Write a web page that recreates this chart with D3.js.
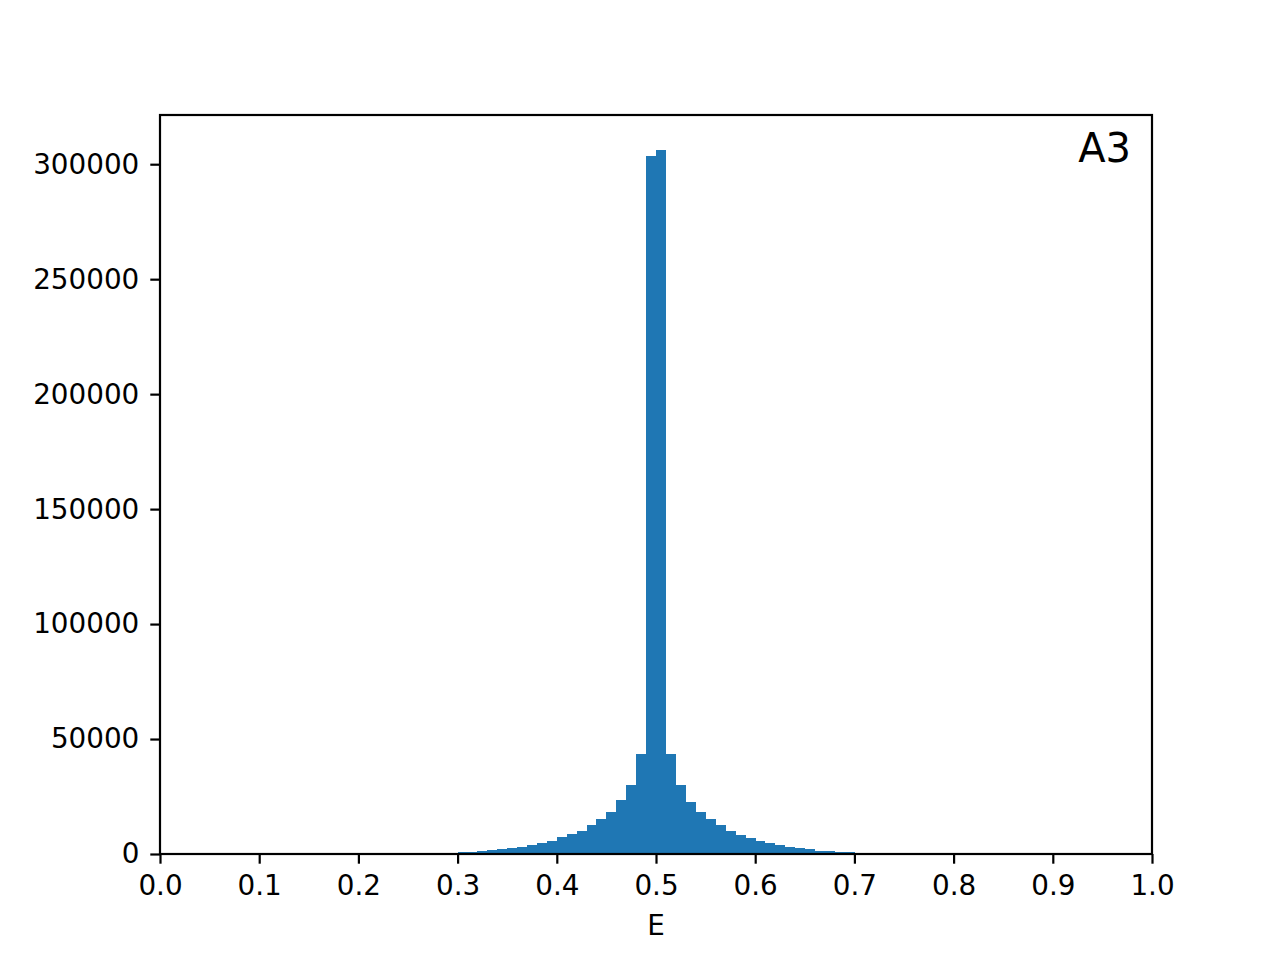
<!DOCTYPE html>
<html>
<head>
<meta charset="utf-8">
<script src="https://cdn.jsdelivr.net/npm/d3@7"></script>
<style>
  body { margin: 0; background: #fff; }
  svg { display: block; }
  text { font-family: "DejaVu Sans", sans-serif; fill: #000; }
</style>
</head>
<body>
<svg id="chart" width="1280" height="960"></svg>
<script>
// Histogram bins (lower edge) and counts, bin width 0.01
const binStarts = [0.30,0.31,0.32,0.33,0.34,0.35,0.36,0.37,0.38,0.39,
                   0.40,0.41,0.42,0.43,0.44,0.45,0.46,0.47,0.48,0.49,
                   0.50,0.51,0.52,0.53,0.54,0.55,0.56,0.57,0.58,0.59,
                   0.60,0.61,0.62,0.63,0.64,0.65,0.66,0.67,0.68,0.69];
const counts = [800, 850, 1300, 1900, 2300, 2700, 3200, 4000, 4900, 5800,
                7400, 8700, 10100, 12600, 15200, 18400, 23500, 30100, 43500, 303500,
                306100, 43500, 30000, 22600, 18300, 15200, 12600, 10000, 8300, 7000,
                5700, 4800, 3900, 3000, 2600, 2200, 1300, 1300, 800, 800];
const binWidth = 0.01;
const xTicks = [0.0,0.1,0.2,0.3,0.4,0.5,0.6,0.7,0.8,0.9,1.0];
const yTicks = [0, 50000, 100000, 150000, 200000, 250000, 300000];
const xLabel = "E";
const panelLabel = "A3";

const svg = d3.select("#chart");
const mLeft = 160, mRight = 1152, mTop = 115, mBottom = 854;
const x = d3.scaleLinear().domain([0, 1]).range([mLeft, mRight]);
const y = d3.scaleLinear().domain([0, 321400]).range([mBottom, mTop]);

// bars
svg.append("g").selectAll("rect")
  .data(binStarts.map((b, i) => ({b, c: counts[i]})))
  .join("rect")
  .attr("x", d => x(d.b))
  .attr("width", d => x(d.b + binWidth) - x(d.b) + 0.3)
  .attr("y", d => y(d.c))
  .attr("height", d => y(0) - y(d.c))
  .attr("fill", "#1f77b4")
  .attr("shape-rendering", "crispEdges");

const tickLen = 9.7, lw = 2.2, fs = 27.8;

// x axis
const xAxis = svg.append("g")
  .attr("transform", `translate(0,${mBottom})`)
  .call(d3.axisBottom(x).tickValues(xTicks).tickFormat(d3.format(".1f"))
        .tickSize(tickLen).tickPadding(11.5));
xAxis.select(".domain").remove();
xAxis.selectAll("line").attr("stroke", "#000").attr("stroke-width", lw);
xAxis.selectAll("text").attr("font-size", fs).attr("font-family", "DejaVu Sans").attr("fill", "#000");

// y axis
const yAxis = svg.append("g")
  .attr("transform", `translate(${mLeft},0)`)
  .call(d3.axisLeft(y).tickValues(yTicks).tickFormat(d3.format("d"))
        .tickSize(tickLen).tickPadding(11));
yAxis.select(".domain").remove();
yAxis.selectAll("line").attr("stroke", "#000").attr("stroke-width", lw);
yAxis.selectAll("text").attr("font-size", fs).attr("font-family", "DejaVu Sans").attr("fill", "#000");

// frame
svg.append("rect")
  .attr("x", mLeft).attr("y", mTop)
  .attr("width", mRight - mLeft).attr("height", mBottom - mTop)
  .attr("fill", "none").attr("stroke", "#000").attr("stroke-width", lw);

// x label
svg.append("text")
  .attr("x", (mLeft + mRight) / 2).attr("y", 935)
  .attr("text-anchor", "middle").attr("font-size", fs)
  .text(xLabel);

// panel label
svg.append("text")
  .attr("x", 1131).attr("y", 162)
  .attr("text-anchor", "end").attr("font-size", 40)
  .text(panelLabel);
</script>
</body>
</html>
